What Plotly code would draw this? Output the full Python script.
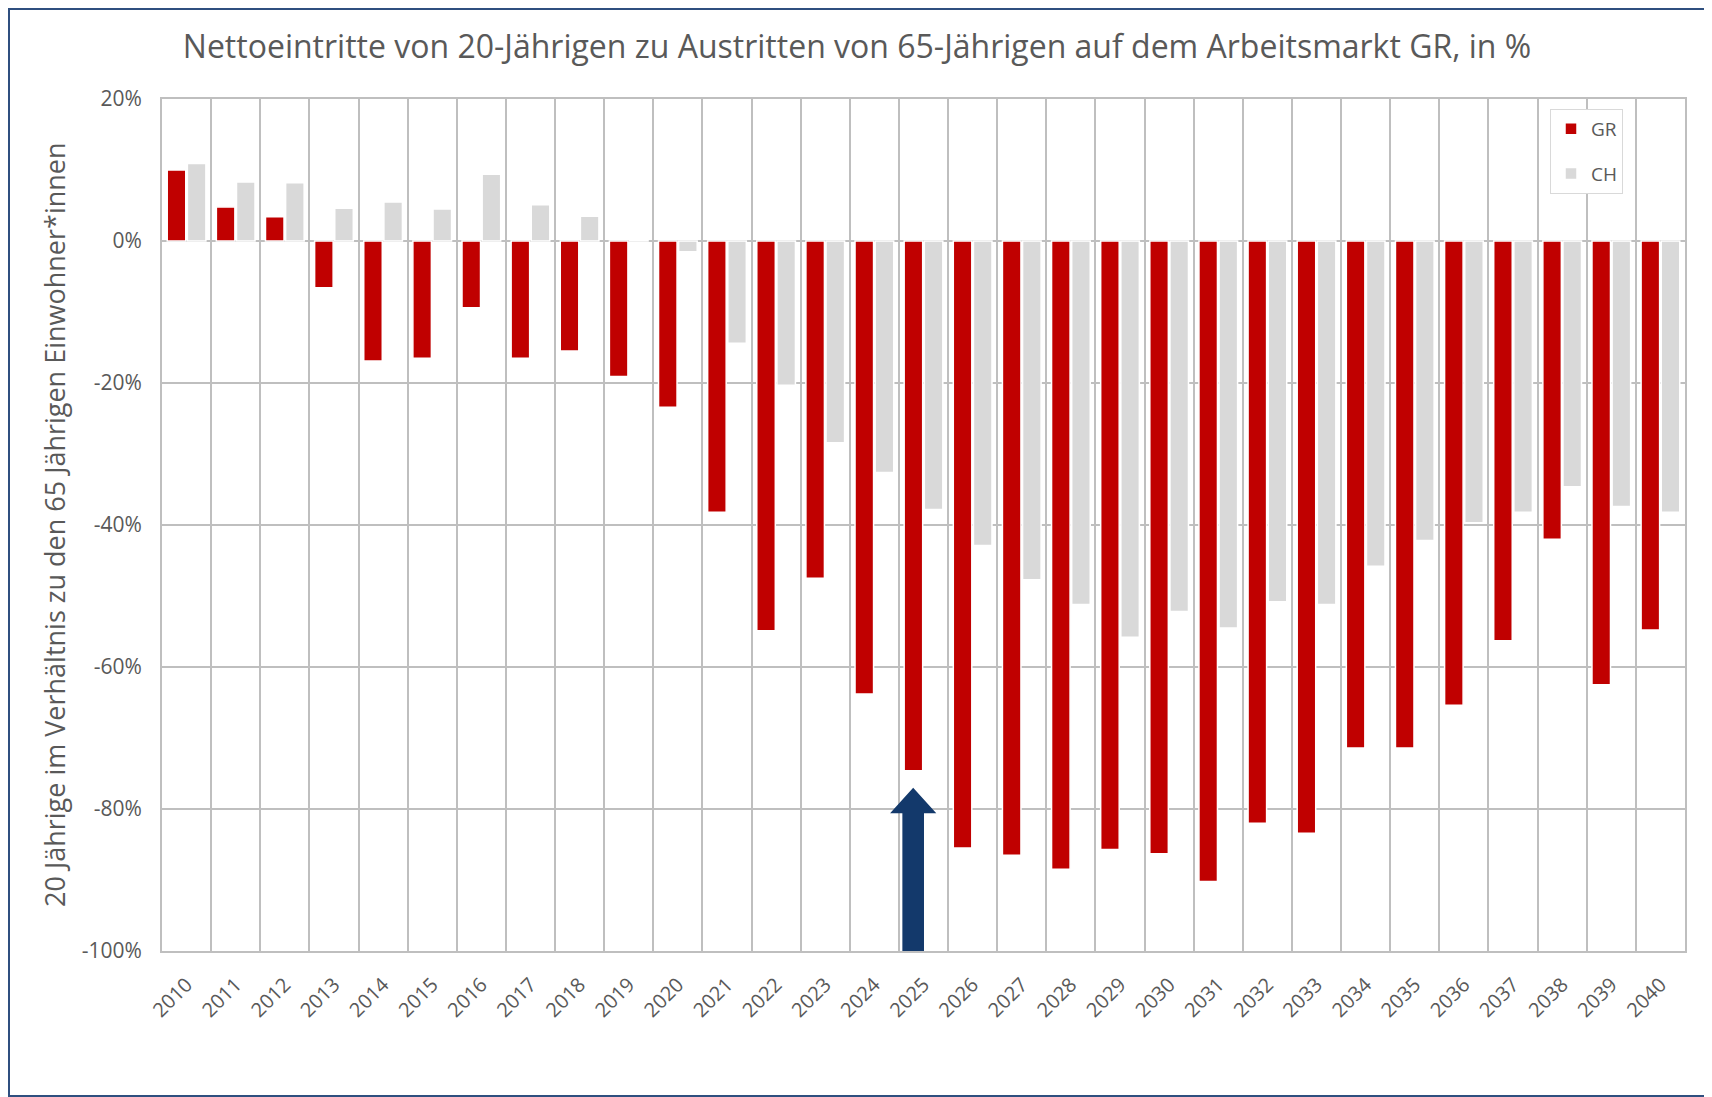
import plotly.graph_objects as go

years = [str(y) for y in range(2010, 2041)]
gr_values = [10.0, 4.8, 3.4, -6.6, -16.9, -16.5, -9.4, -16.5, -15.5, -19.1,
             -23.4, -38.2, -54.9, -47.5, -63.8, -74.6, -85.5, -86.5, -88.5, -85.7,
             -86.3, -90.2, -82.0, -83.4, -71.4, -71.4, -65.4, -56.3, -42.0, -62.5,
             -54.8]
ch_values = [10.9, 8.3, 8.2, 4.6, 5.5, 4.5, 9.4, 5.1, 3.5, 0.2,
             -1.5, -14.4, -20.3, -28.4, -32.6, -37.8, -42.9, -47.7, -51.2, -55.8,
             -52.2, -54.5, -50.8, -51.2, -45.8, -42.2, -39.7, -38.2, -34.6, -37.4,
             -38.2]
y_ticks = [20, 0, -20, -40, -60, -80, -100]
y_ticktext = ["20%", "0%", "-20%", "-40%", "-60%", "-80%", "-100%"]
arrow_year = "2025"

# the page body adds 8px around the figure, so the figure is 8px smaller
OFF = 8
W, H = 1712 - OFF, 1097 - OFF
ML, MT = 162 - OFF, 99 - OFF
MR = W - (1685 - OFF)
MB = H - (951 - OFF)
pw, ph = W - ML - MR, H - MT - MB
GREY_TXT = "#595959"
GRID = "#BFBFBF"
FONT = "Open Sans"

fig = go.Figure()
fig.add_trace(go.Bar(x=years, y=gr_values, name="GR", legendgroup="gr",
                     marker=dict(color="#C00000", line=dict(color="white", width=1.5))))
fig.add_trace(go.Bar(x=years, y=ch_values, name="CH", legendgroup="ch",
                     marker=dict(color="#D9D9D9", line=dict(color="white", width=1.5))))

# block arrow under the GR bar of 2025
i = years.index(arrow_year)
cx = i - 0.21
tip = gr_values[i] - 2.4
base = tip - 3.6
path = (f"M {cx-0.22},-101 L {cx-0.22},{base} L {cx-0.47},{base} L {cx},{tip} "
        f"L {cx+0.47},{base} L {cx+0.22},{base} L {cx+0.22},-101 Z")
fig.add_shape(type="path", path=path, xref="x", yref="y",
              fillcolor="#13396B", line=dict(width=0))

# outer frame of the chart
fig.add_shape(type="rect", xref="paper", yref="paper",
              x0=(1 - ML) / pw, x1=(W - 1 - ML) / pw,
              y0=-(MB - 1) / ph, y1=(H - MB - 1) / ph,
              line=dict(color="#2F4F7F", width=2))

# y axis title
fig.add_annotation(text="20 Jährige im Verhältnis zu den 65 Jährigen Einwohner*innen",
                   xref="paper", yref="paper", x=(54 - OFF - ML) / pw, y=0.5,
                   xanchor="center", yanchor="middle", textangle=-90, showarrow=False,
                   font=dict(size=27, color=GREY_TXT, family=FONT))

fig.update_layout(
    width=W, height=H,
    margin=dict(l=ML, r=MR, t=MT, b=MB),
    paper_bgcolor="white", plot_bgcolor="white",
    font=dict(family=FONT, color=GREY_TXT),
    title=dict(text="Nettoeintritte von 20-Jährigen zu Austritten von 65-Jährigen auf dem Arbeitsmarkt GR, in %",
               x=(857 - OFF) / W, xref="container", xanchor="center",
               y=1 - (47 - OFF) / H, yref="container", yanchor="middle",
               font=dict(size=32, color=GREY_TXT, family=FONT)),
    barmode="group", bargap=0.18, bargroupgap=0.08,
    legend=dict(x=(1550 - OFF - ML) / pw, y=(H - MB - (109 - OFF)) / ph,
                xanchor="left", yanchor="top",
                bgcolor="white", bordercolor="#D9D9D9", borderwidth=1,
                font=dict(size=19, color=GREY_TXT), tracegroupgap=17,
                itemwidth=30),
    showlegend=True,
)
fig.update_xaxes(type="category", tickson="boundaries", showgrid=True, gridcolor=GRID, gridwidth=2,
                 showline=True, linecolor=GRID, linewidth=2, mirror=True,
                 tickangle=-45, tickfont=dict(size=20, color=GREY_TXT), ticks="",
                 ticklabelstandoff=12)
fig.update_yaxes(range=[-100, 20], tickvals=y_ticks, ticktext=y_ticktext,
                 showgrid=True, gridcolor=GRID, gridwidth=2, zeroline=False,
                 showline=True, linecolor=GRID, linewidth=2, mirror=True,
                 tickfont=dict(size=21, color=GREY_TXT), ticks="",
                 ticklabelstandoff=14)

fig.write_html("out.html")
